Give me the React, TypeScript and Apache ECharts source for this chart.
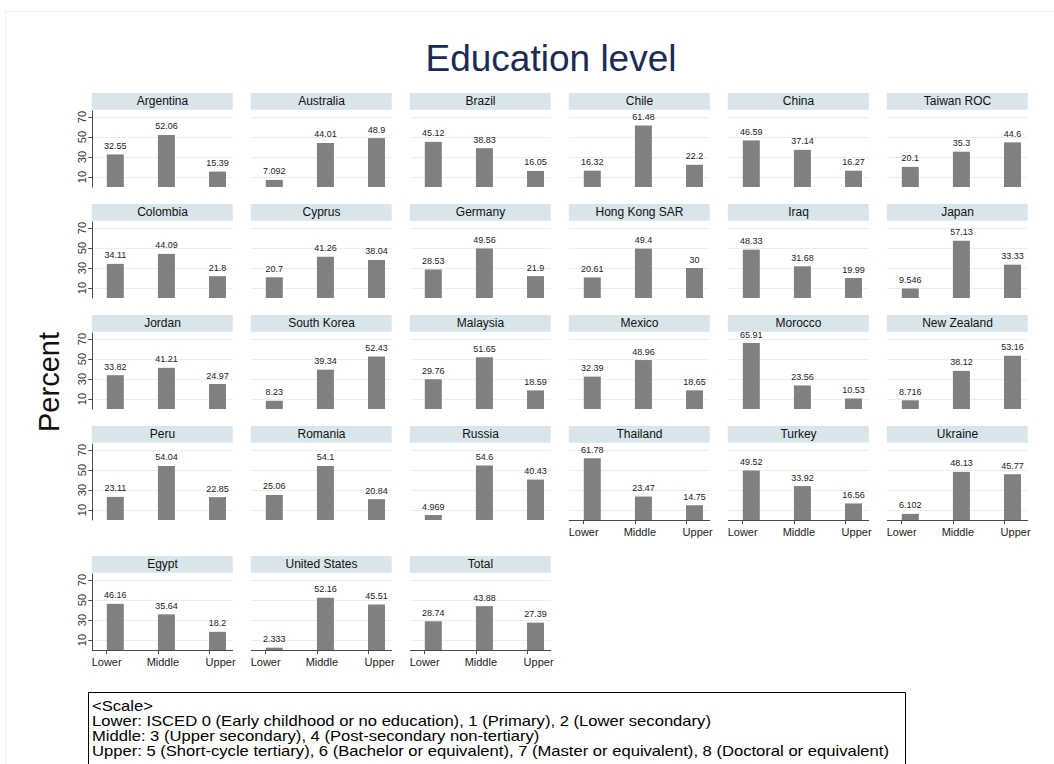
import React, { useEffect, useRef } from "react";
import * as echarts from "echarts";

const countries = [
  "Argentina", "Australia", "Brazil", "Chile", "China", "Taiwan ROC",
  "Colombia", "Cyprus", "Germany", "Hong Kong SAR", "Iraq", "Japan",
  "Jordan", "South Korea", "Malaysia", "Mexico", "Morocco", "New Zealand",
  "Peru", "Romania", "Russia", "Thailand", "Turkey", "Ukraine",
  "Egypt", "United States", "Total",
];
const lowerValues = [
  32.55, 7.092, 45.12, 16.32, 46.59, 20.1,
  34.11, 20.7, 28.53, 20.61, 48.33, 9.546,
  33.82, 8.23, 29.76, 32.39, 65.91, 8.716,
  23.11, 25.06, 4.969, 61.78, 49.52, 6.102,
  46.16, 2.333, 28.74,
];
const middleValues = [
  52.06, 44.01, 38.83, 61.48, 37.14, 35.3,
  44.09, 41.26, 49.56, 49.4, 31.68, 57.13,
  41.21, 39.34, 51.65, 48.96, 23.56, 38.12,
  54.04, 54.1, 54.6, 23.47, 33.92, 48.13,
  35.64, 52.16, 43.88,
];
const upperValues = [
  15.39, 48.9, 16.05, 22.2, 16.27, 44.6,
  21.8, 38.04, 21.9, 30, 19.99, 33.33,
  24.97, 52.43, 18.59, 18.65, 10.53, 53.16,
  22.85, 20.84, 40.43, 14.75, 16.56, 45.77,
  18.2, 45.51, 27.39,
];
const levelLabels = ["Lower", "Middle", "Upper"];
const yTickValues = [10, 30, 50, 70];
const titleText = "Education level";
const yAxisTitle = "Percent";
const noteLines = [
  "<Scale>",
  "Lower: ISCED 0 (Early childhood or no education), 1 (Primary), 2 (Lower secondary)",
  "Middle: 3 (Upper secondary), 4 (Post-secondary non-tertiary)",
  "Upper: 5 (Short-cycle tertiary), 6 (Bachelor or equivalent), 7 (Master or equivalent), 8 (Doctoral or equivalent)",
];

const FONT = "'Liberation Sans', Arial, Helvetica, sans-serif";
const NCOLS = 6;
const COL_LEFT = 92.3;
const COL_PITCH = 159;
const PLOT_W = 140.4;
const ROW_ZERO = [187, 298, 409, 520, 650];
const Y_MAX = 76;
const PLOT_H = 76;
const HEADER_OFFSET = 94;
const HEADER_H = 16.7;
const X_MIN = 0.55;
const X_MAX = 3.297;
const TICK_SHIFT = 0.169;
const LABEL_SHIFT = [-0.169, -0.07, 0.06];

const GRID_COLOR = "#e7eff2";
const HEADER_COLOR = "#d8e5eb";
const BAR_COLOR = "#808080";
const AXIS_COLOR = "#4a4a4a";

function isBottom(i: number): boolean {
  const r = Math.floor(i / NCOLS);
  const c = i % NCOLS;
  if (r === 4) return true;
  if (r === 3 && c >= 3) return true;
  return false;
}

export default function App() {
  const ref = useRef<HTMLDivElement>(null);
  useEffect(() => {
    if (!ref.current) return;
    const chart = echarts.init(ref.current, undefined, { renderer: "svg" });
    const grids: any[] = [];
    const xAxes: any[] = [];
    const yAxes: any[] = [];
    const series: any[] = [];
    const graphics: any[] = [];

    graphics.push({
      type: "rect",
      shape: { x: 5.5, y: 11.5, width: 1060, height: 800 },
      style: { fill: "none", stroke: "#efefef", lineWidth: 1 },
      silent: true,
    });

    countries.forEach((name, i) => {
      const r = Math.floor(i / NCOLS);
      const c = i % NCOLS;
      const left = COL_LEFT + COL_PITCH * c;
      const zero = ROW_ZERO[r];
      const top = zero - PLOT_H;
      grids.push({ left, top, width: PLOT_W, height: PLOT_H, containLabel: false });
      const bottom = isBottom(i);
      const tickVals = [1, 2, 3].map((v) => v - TICK_SHIFT);
      const labelVals = [1, 2, 3].map((v, k) => v + LABEL_SHIFT[k]);
      xAxes.push({
        type: "value",
        gridIndex: i,
        min: X_MIN,
        max: X_MAX,
        show: bottom,
        axisLine: { show: bottom, onZero: false, lineStyle: { color: AXIS_COLOR, width: 1 } },
        axisTick: { show: bottom, length: 4, customValues: tickVals, lineStyle: { color: AXIS_COLOR } },
        axisLabel: {
          show: bottom,
          customValues: labelVals,
          formatter: (v: number) => levelLabels[Math.round(v - 1 + 0.2)] ?? "",
          fontSize: 11,
          color: "#222",
          fontFamily: FONT,
          margin: 6,
        },
        splitLine: { show: false },
      });
      const leftCol = c === 0;
      yAxes.push({
        type: "value",
        gridIndex: i,
        min: 0,
        max: Y_MAX,
        axisLine: { show: leftCol, lineStyle: { color: AXIS_COLOR, width: 1 } },
        axisTick: { show: leftCol, length: 4, customValues: yTickValues, lineStyle: { color: AXIS_COLOR } },
        axisLabel: {
          show: leftCol,
          customValues: yTickValues,
          rotate: 90,
          fontSize: 11,
          color: "#333",
          fontFamily: FONT,
          margin: 5,
        },
        splitLine: { show: true, lineStyle: { color: GRID_COLOR, width: 1 } },
      });
      const vals = [lowerValues[i], middleValues[i], upperValues[i]];
      series.push({
        type: "bar",
        xAxisIndex: i,
        yAxisIndex: i,
        barWidth: 17,
        data: vals.map((v, k) => [k + 1, v]),
        itemStyle: { color: BAR_COLOR },
        label: {
          show: true,
          position: "top",
          distance: 4,
          fontSize: 9,
          color: "#222",
          fontFamily: FONT,
          formatter: (p: any) => String(p.value[1]),
        },
      });
      graphics.push({
        type: "rect",
        shape: { x: left - 0.5, y: zero - HEADER_OFFSET, width: PLOT_W + 0.5, height: HEADER_H },
        style: { fill: HEADER_COLOR },
        silent: true,
      });
      graphics.push({
        type: "text",
        x: left + PLOT_W / 2,
        y: zero - HEADER_OFFSET + HEADER_H / 2,
        style: {
          text: name,
          fontSize: 12,
          fontFamily: FONT,
          fill: "#111",
          align: "center",
          verticalAlign: "middle",
        },
        silent: true,
      });
    });

    graphics.push({
      type: "text",
      x: 551,
      y: 58,
      style: {
        text: titleText,
        fontSize: 37,
        fontFamily: FONT,
        fill: "#1c2a55",
        align: "center",
        verticalAlign: "middle",
      },
    });
    graphics.push({
      type: "text",
      x: 49,
      y: 382,
      rotation: Math.PI / 2,
      style: {
        text: yAxisTitle,
        fontSize: 29,
        fontFamily: FONT,
        fill: "#111",
        align: "center",
        verticalAlign: "middle",
      },
    });
    graphics.push({
      type: "rect",
      shape: { x: 88.5, y: 692.5, width: 817, height: 90 },
      style: { fill: "#fff", stroke: "#000", lineWidth: 1 },
    });
    noteLines.forEach((line, k) => {
      graphics.push({
        type: "text",
        x: 92,
        y: 706 + k * 15,
        scaleX: 1.17,
        style: {
          text: line,
          fontSize: 14.2,
          fontFamily: FONT,
          fill: "#000",
          align: "left",
          verticalAlign: "middle",
        },
      });
    });

    chart.setOption({
      animation: false,
      backgroundColor: "#ffffff",
      grid: grids,
      xAxis: xAxes,
      yAxis: yAxes,
      series,
      graphic: graphics,
    });
    return () => chart.dispose();
  }, []);
  return (
    <div
      ref={ref}
      style={{ position: "absolute", left: 0, top: 0, width: 1054, height: 764 }}
    />
  );
}
